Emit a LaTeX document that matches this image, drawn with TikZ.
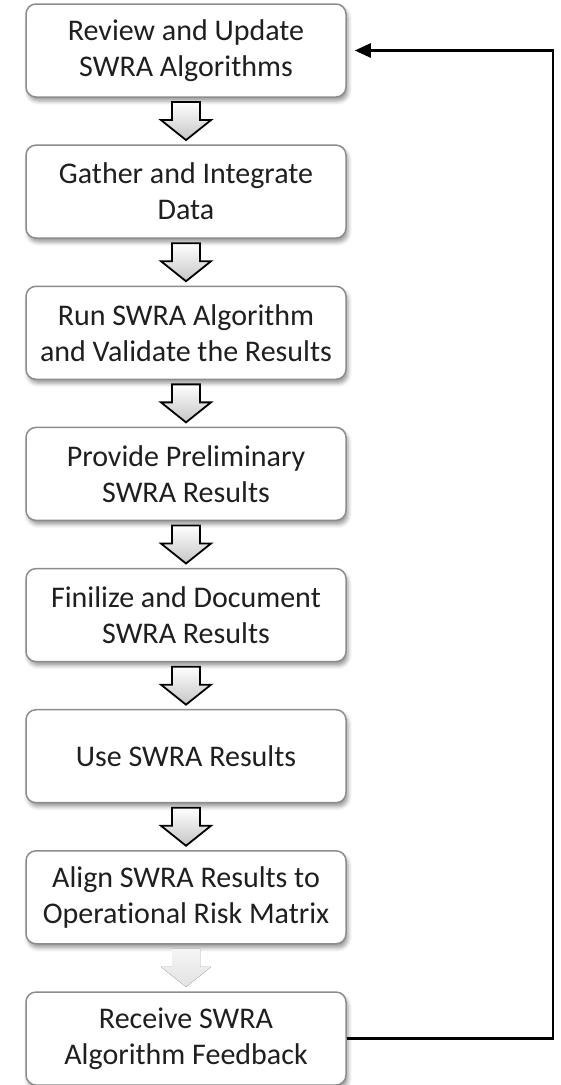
\documentclass[tikz,border=0pt]{standalone}
\usepackage{fontspec}
\setmainfont[Ligatures={NoCommon}]{Carlito}
\usetikzlibrary{shadows.blur,arrows.meta,calc}
\definecolor{boxgray}{HTML}{8C8C8C}
\begin{document}
\begin{tikzpicture}[x=1pt,y=1pt,
  stepbox/.style={draw=boxgray, line width=1.5pt, rounded corners=10pt, fill=white,
    minimum width=320pt, minimum height=93pt, align=center, inner sep=0pt,
    font=\fontsize{30}{36}\selectfont, text=black!88,
    blur shadow={shadow xshift=2pt, shadow yshift=-4pt, shadow blur radius=4pt, shadow opacity=40}},
  blockarr/.style={draw=black, line width=1.8pt, line join=miter, shading=axis, top color=white, bottom color=gray!45},
  fadedarr/.style={draw=none, shading=axis, top color=gray!8, bottom color=gray!22},
  loopline/.style={line width=2.5pt, -{Triangle[length=16pt,width=14pt]}}
]
\useasboundingbox (0,0) rectangle (560,-1085);
\node[stepbox] (b1) at (186,-50.5)   {Review and Update\\SWRA Algorithms};
\node[stepbox] (b2) at (186,-191.6)  {Gather and Integrate\\Data};
\node[stepbox] (b3) at (186,-332.8)  {Run SWRA Algorithm\\and Validate the Results};
\node[stepbox] (b4) at (186,-473.9)  {Provide Preliminary\\SWRA Results};
\node[stepbox] (b5) at (186,-615.1)  {Finilize and Document\\SWRA Results};
\node[stepbox] (b6) at (186,-756.2)  {Use SWRA Results};
\node[stepbox] (b7) at (186,-897.3)  {Align SWRA Results to\\Operational Risk Matrix};
\node[stepbox] (b8) at (186,-1038.5) {Receive SWRA\\Algorithm Feedback};
\foreach \a/\b in {b1/b2,b2/b3,b3/b4,b4/b5,b5/b6,b6/b7}{
  \draw[blockarr, shift={($(\a.south)!0.5!(\b.north)$)}]
    (-14,19) -- (14,19) -- (14,1) -- (25,1) -- (0,-19) -- (-25,1) -- (-14,1) -- cycle;
}
\fill[fadedarr, shift={($(b7.south)!0.5!(b8.north)$)}]
    (-14,19) -- (14,19) -- (14,1) -- (25,1) -- (0,-19) -- (-25,1) -- (-14,1) -- cycle;
\coordinate (rt) at (553,0);
\draw[loopline] (b8.east) -- (b8.east -| rt) |- ($(b1.east)+(8,0)$);
\end{tikzpicture}
\end{document}
